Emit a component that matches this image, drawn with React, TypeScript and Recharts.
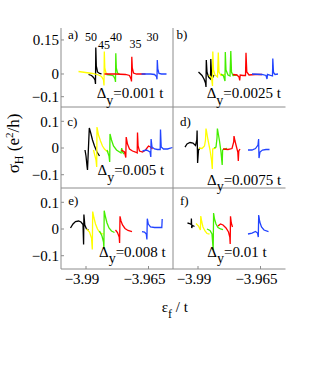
import React from 'react';
import { LineChart, Line, XAxis, YAxis } from 'recharts';

type Pt = [number, number];

const seriesColors = ['#000000', '#ffff00', '#44ee00', '#ff0000', '#2244ff'];
const sizeLabels = ['50', '45', '40', '35', '30'];
const deltaLabels = ['0.001', '0.0025', '0.005', '0.0075', '0.008', '0.01'];
const panelLetters = ['a)', 'b)', 'c)', 'd)', 'e)', 'f)'];
const xTicks = [-3.99, -3.965];
const xDomain: [number, number] = [-4.0, -3.955];
const yTicksTop = [-0.1, 0, 0.15];
const yTicksLower = [-0.1, 0, 0.1];
const yDomainTop: [number, number] = [-0.1454, 0.2026];
const yDomainLower: [number, number] = [-0.1498, 0.1536];

// panel a) Δy = 0.001 t
const a_black: Pt[] = [[-3.989,-0.0022],[-3.9878,-0.0066],[-3.987,-0.0154],[-3.9864,-0.0264],[-3.9862,-0.044],[-3.98608,0.1167],[-3.98588,0.0352],[-3.9854,0.0088],[-3.9846,0.0022],[-3.9838,0]];
const a_yellow: Pt[] = [[-3.993,0.011],[-3.9902,0.0066],[-3.9874,0.0022],[-3.985,-0.0044],[-3.9838,-0.011],[-3.983,-0.0264],[-3.9828,-0.0507],[-3.98268,0.0991],[-3.98248,0.0264],[-3.982,0.0044],[-3.9814,0]];
const a_green: Pt[] = [[-3.9818,-0.0022],[-3.9802,-0.0044],[-3.979,-0.0088],[-3.9784,-0.022],[-3.9782,-0.0352],[-3.97808,0.0912],[-3.97788,0.0264],[-3.9774,0.0044],[-3.9766,0]];
const a_red: Pt[] = [[-3.9826,0],[-3.9782,0],[-3.9742,-0.0022],[-3.9726,-0.0066],[-3.972,-0.022],[-3.9718,-0.033],[-3.97168,0.0762],[-3.97148,0.0264],[-3.971,0.0044],[-3.9698,0],[-3.9662,0]];
const a_blue: Pt[] = [[-3.9678,0],[-3.9642,0],[-3.9626,-0.0022],[-3.9618,-0.011],[-3.9616,-0.0233],[-3.96148,0.0617],[-3.96128,0.022],[-3.9608,0.0022],[-3.9598,0],[-3.9578,0]];

// panel b) Δy = 0.0025 t
const b_black: Pt[] = [[-3.9898,0.0088],[-3.9884,-0.0066],[-3.9876,-0.022],[-3.987,-0.0396],[-3.9868,-0.0573],[-3.98668,0.0617],[-3.9864,0.0088],[-3.9858,-0.0132],[-3.9852,-0.0198],[-3.985,-0.022],[-3.98488,0.0661],[-3.9846,0],[-3.9842,-0.0176],[-3.9836,-0.0044]];
const b_yellow: Pt[] = [[-3.9856,-0.0044],[-3.9846,-0.0176],[-3.9842,-0.0529],[-3.98408,0.0991],[-3.9838,0.0176],[-3.9832,-0.0044],[-3.9822,-0.0132],[-3.98188,0.0947],[-3.9816,0.0088],[-3.9808,-0.0066],[-3.9792,-0.0022]];
const b_green: Pt[] = [[-3.9808,0],[-3.9798,-0.0088],[-3.9792,-0.0308],[-3.97908,0.0969],[-3.9788,0.0176],[-3.978,-0.0044],[-3.9772,-0.0088],[-3.97688,0.1013],[-3.9766,0.0088],[-3.976,-0.0066],[-3.9744,-0.0044]];
const b_red: Pt[] = [[-3.976,-0.0022],[-3.9744,-0.0044],[-3.9736,-0.0132],[-3.97332,-0.0286],[-3.97312,-0.0044],[-3.972,-0.0066],[-3.971,-0.0066],[-3.9708,0.0938],[-3.97048,0.0088],[-3.9696,-0.0044],[-3.9672,-0.0022],[-3.9644,-0.0022]];
const b_blue: Pt[] = [[-3.9684,0],[-3.9644,-0.0022],[-3.9628,-0.0066],[-3.9624,-0.022],[-3.9622,-0.0022],[-3.961,-0.0066],[-3.9602,-0.0088],[-3.96008,0.0683],[-3.9598,0.0066],[-3.9592,-0.0022],[-3.958,0]];

// panel c) Δy = 0.005 t
const c_black: Pt[] = [[-3.9904,-0.0075],[-3.99,-0.03],[-3.9896,-0.0674],[-3.9894,-0.0824],[-3.98868,0.0749],[-3.988,0.0524],[-3.9874,0.03],[-3.9866,0.0075],[-3.9856,-0.015],[-3.9846,-0.03]];
const c_yellow: Pt[] = [[-3.987,-0.0075],[-3.986,-0.0449],[-3.98572,-0.0712],[-3.9856,0.0787],[-3.985,0.0487],[-3.9842,0.0262],[-3.9834,0.0075],[-3.9826,-0.0037],[-3.9818,-0.0112],[-3.981,-0.015]];
const c_green: Pt[] = [[-3.9816,-0.0075],[-3.9808,-0.03],[-3.98052,-0.0524],[-3.9804,0.0524],[-3.9798,0.03],[-3.979,0.0075],[-3.9778,-0.0075],[-3.9766,-0.015],[-3.976,-0.0187],[-3.97572,0],[-3.9754,-0.015],[-3.9748,-0.0225]];
const c_red: Pt[] = [[-3.9758,-0.0075],[-3.9746,-0.015],[-3.97408,-0.0356],[-3.97392,0.0412],[-3.9734,0.015],[-3.9726,-0.0037],[-3.9714,-0.0112],[-3.9702,-0.015],[-3.96952,-0.0187],[-3.9694,0.058],[-3.96916,0.0075],[-3.9686,-0.0112],[-3.9674,-0.015],[-3.9662,-0.0075],[-3.965,0.0075],[-3.9642,0.0037],[-3.9634,-0.0037]];
const c_blue: Pt[] = [[-3.9674,-0.0112],[-3.9658,-0.0075],[-3.9644,-0.015],[-3.96408,-0.0337],[-3.96396,0.0337],[-3.9636,0.0037],[-3.9626,-0.0037],[-3.9614,-0.0056],[-3.96032,-0.0056],[-3.9602,0.0693],[-3.95992,0.0037],[-3.959,-0.0037],[-3.9574,-0.0037],[-3.9554,0.0019]];

// panel d) Δy = 0.0075 t
const d_black: Pt[] = [[-3.9952,0.0037],[-3.9944,0.015],[-3.9932,0.0206],[-3.992,0.0187],[-3.991,0.0094],[-3.99048,0.03],[-3.99036,0.0655],[-3.99016,-0.0562],[-3.9898,-0.0075],[-3.9892,0]];
const d_yellow: Pt[] = [[-3.9896,0],[-3.9884,-0.0019],[-3.9874,0.0075],[-3.987,0.03],[-3.9868,0.073],[-3.9866,0.0637],[-3.986,0.03],[-3.9852,-0.0075],[-3.9846,-0.0449],[-3.98428,-0.0787],[-3.98412,-0.0037],[-3.9836,-0.0019],[-3.9828,0]];
const d_green: Pt[] = [[-3.9836,0],[-3.9828,0.0037],[-3.9824,0.0375],[-3.98224,0.073],[-3.982,0.0599],[-3.9814,0.0262],[-3.9808,-0.015],[-3.98032,-0.0637],[-3.98016,-0.0075],[-3.9796,-0.0037],[-3.9784,-0.0019]];
const d_red: Pt[] = [[-3.98,-0.0037],[-3.978,-0.0056],[-3.9764,-0.0019],[-3.97572,0.0225],[-3.9756,0.0449],[-3.9752,0.0262],[-3.9746,0.0037],[-3.97408,-0.015],[-3.97388,-0.0487],[-3.97368,-0.0112],[-3.9732,-0.0037]];
const d_blue: Pt[] = [[-3.97,-0.0075],[-3.9684,-0.0075],[-3.967,-0.0019],[-3.966,0.0112],[-3.96576,0.0337],[-3.9656,-0.0375],[-3.9652,-0.015],[-3.9642,-0.0075],[-3.9628,-0.0056],[-3.9614,-0.0056]];

// panel e) Δy = 0.008 t
const e_black: Pt[] = [[-3.9962,0.0037],[-3.9952,0.0187],[-3.9942,0.0281],[-3.993,0.03],[-3.992,0.0262],[-3.9912,0.0169],[-3.99096,-0.0581],[-3.99084,0.0543],[-3.99048,0.015],[-3.9898,0],[-3.989,-0.0037]];
const e_yellow: Pt[] = [[-3.9898,0],[-3.9886,-0.0112],[-3.9878,-0.0337],[-3.98748,-0.0768],[-3.98732,0.0655],[-3.9868,0.0412],[-3.9862,0.0187],[-3.9854,0],[-3.9846,-0.0112],[-3.9838,-0.0169],[-3.983,-0.0187]];
const e_green: Pt[] = [[-3.9846,-0.0075],[-3.9836,-0.0262],[-3.983,-0.0487],[-3.98284,-0.0749],[-3.98272,0.0685],[-3.9822,0.0449],[-3.9816,0.0225],[-3.9808,0.0037],[-3.9798,-0.0075],[-3.9786,-0.0131]];
const e_red: Pt[] = [[-3.9782,-0.0037],[-3.9774,-0.0131],[-3.97672,-0.03],[-3.97656,-0.0524],[-3.9764,0.0476],[-3.976,0.03],[-3.9754,0.015],[-3.9744,0.0019],[-3.9732,-0.0056],[-3.9716,-0.0094]];
const e_blue: Pt[] = [[-3.9676,-0.0094],[-3.9666,-0.0112],[-3.96588,-0.0187],[-3.96564,-0.0393],[-3.96548,0.0386],[-3.96508,0.0187],[-3.9642,0.0075],[-3.9626,0.0056],[-3.961,0.0056],[-3.95968,0.0056],[-3.95952,0.0375]];

// panel f) Δy = 0.01 t
const f_black: Pt[] = [[-3.9942,0.0225],[-3.9934,0.0206],[-3.99272,0.0169],[-3.99264,0.0393],[-3.99252,0.0037],[-3.9922,0.0131],[-3.9914,0.0094]];
const f_yellow: Pt[] = [[-3.9908,0.0206],[-3.9898,0.0112],[-3.98904,-0.0037],[-3.98888,0.0487],[-3.98848,0.0262],[-3.988,0.0075],[-3.9872,-0.0075],[-3.9864,-0.0169],[-3.9854,-0.0187]];
const f_green: Pt[] = [[-3.9864,0],[-3.9852,-0.0056],[-3.9844,-0.0187],[-3.98392,-0.0787],[-3.98376,0.0599],[-3.9834,0.0375],[-3.9828,0.0187],[-3.982,0.0056],[-3.981,0],[-3.98,-0.0019]];
const f_red: Pt[] = [[-3.982,0.0112],[-3.981,0.0187],[-3.98,0.015],[-3.9788,0.0037],[-3.9778,-0.0112],[-3.97728,-0.03],[-3.97712,-0.0562],[-3.977,0.0476],[-3.97668,0.0225],[-3.9762,0.0075]];
const f_blue: Pt[] = [[-3.97,-0.0187],[-3.9684,-0.015],[-3.967,-0.0094],[-3.9662,-0.015],[-3.96588,-0.03],[-3.96572,0.0524],[-3.96528,0.0262],[-3.9646,0.0075],[-3.9636,-0.0037],[-3.9618,-0.0094]];

const panelSeries: Pt[][][] = [
  [a_black, a_yellow, a_green, a_red, a_blue],
  [b_black, b_yellow, b_green, b_red, b_blue],
  [c_black, c_yellow, c_green, c_red, c_blue],
  [d_black, d_yellow, d_green, d_red, d_blue],
  [e_black, e_yellow, e_green, e_red, e_blue],
  [f_black, f_yellow, f_green, f_red, f_blue],
];

const SERIF = 'Liberation Serif, DejaVu Serif, serif';
const AXIS_GREY = '#8c8c8c';
const fmt = (v: number) => (v < 0 ? '\u2212' : '') + String(Math.abs(v));

const XTick = (p: any) => (
  <text x={p.x - 4} y={p.y} dy="0.71em" textAnchor="middle" fill="#000" fontSize={15} fontFamily={SERIF}>
    {fmt(p.payload.value)}
  </text>
);
const YTick = (p: any) => (
  <text x={p.x} y={p.y} dy="0.355em" textAnchor="end" fill="#000" fontSize={15} fontFamily={SERIF}>
    {fmt(p.payload.value)}
  </text>
);

const PLOT_W = 112.5;
const AXW = 50;
const XH = 30;

function Panel(props: {
  left: number; top: number; h: number; yDomain: [number, number]; yTicks: number[];
  yLabels: boolean; xLabels: boolean; series: Pt[][];
}) {
  const { left, top, h, yDomain, yTicks, yLabels, xLabels, series } = props;
  return (
    <div style={{ position: 'absolute', left: left - AXW, top }}>
      <LineChart width={AXW + PLOT_W} height={h + XH} margin={{ top: 0, right: 0, bottom: 0, left: 0 }}>
        <XAxis type="number" dataKey="x" domain={xDomain} ticks={xTicks} allowDataOverflow interval={0}
          height={XH} stroke={AXIS_GREY} tickSize={-3} tickMargin={7}
          tick={xLabels ? <XTick /> : false} />
        <YAxis type="number" dataKey="y" domain={yDomain} ticks={yTicks} allowDataOverflow interval={0}
          width={AXW} stroke={AXIS_GREY} tickSize={-3} tickMargin={5}
          tick={yLabels ? <YTick /> : false} />
        {series.map((s, i) => (
          <Line key={i} data={s.map(([x, y]) => ({ x, y }))} dataKey="y" type="linear"
            stroke={seriesColors[i]} strokeWidth={1.3} dot={false} activeDot={false}
            isAnimationActive={false} />
        ))}
      </LineChart>
    </div>
  );
}

const panelLayout = [
  { left: 60.5, top: 28, h: 79, yDomain: yDomainTop, yTicks: yTicksTop, yLabels: true, xLabels: false },
  { left: 173, top: 28, h: 79, yDomain: yDomainTop, yTicks: yTicksTop, yLabels: false, xLabels: false },
  { left: 60.5, top: 107, h: 81, yDomain: yDomainLower, yTicks: yTicksLower, yLabels: true, xLabels: false },
  { left: 173, top: 107, h: 81, yDomain: yDomainLower, yTicks: yTicksLower, yLabels: false, xLabels: false },
  { left: 60.5, top: 188, h: 81, yDomain: yDomainLower, yTicks: yTicksLower, yLabels: true, xLabels: true },
  { left: 173, top: 188, h: 81, yDomain: yDomainLower, yTicks: yTicksLower, yLabels: false, xLabels: true },
];

const letterPos = [[68, 38.5], [176.5, 38.5], [67.3, 126], [180, 126], [68.3, 204.5], [180, 204.5]];
const deltaPos = [[96.7, 98], [206.7, 98], [97.5, 175], [207, 184.5], [99, 256.5], [207.3, 256.5]];
const sizePos = [[91, 40.5], [104, 48.5], [116, 40.5], [135.5, 47.5], [152.5, 40.5]];

export default function App() {
  return (
    <div style={{ position: 'absolute', left: 0, top: 0, width: 336, height: 371, background: '#fff', overflow: 'hidden' }}>
      {panelLayout.map((p, i) => (
        <Panel key={i} {...p} series={panelSeries[i]} />
      ))}
      <svg width={336} height={371} style={{ position: 'absolute', left: 0, top: 0, pointerEvents: 'none' }}
        fontFamily={SERIF} fill="#000">
        {panelLetters.map((t, i) => (
          <text key={'l' + i} x={letterPos[i][0]} y={letterPos[i][1]} fontSize={13}>{t}</text>
        ))}
        {deltaLabels.map((t, i) => (
          <text key={'d' + i} x={deltaPos[i][0]} y={deltaPos[i][1]} fontSize={15}>
            Δ<tspan dy={6.5} fontSize={14}>y</tspan><tspan dy={-6.5}>{'=' + t + ' t'}</tspan>
          </text>
        ))}
        {sizeLabels.map((t, i) => (
          <text key={'s' + i} x={sizePos[i][0]} y={sizePos[i][1]} fontSize={12} textAnchor="middle">{t}</text>
        ))}
        <text transform="translate(18.5,143.5) rotate(-90)" textAnchor="middle" fontSize={17}>
          σ<tspan dy={4} fontSize={12}>H</tspan><tspan dy={-4}> (e</tspan><tspan dy={-6} fontSize={11}>2</tspan><tspan dy={6}>/h)</tspan>
        </text>
        <text x={161.7} y={311.7} fontSize={15}>
          ε<tspan dy={6} fontSize={12}>f</tspan><tspan dy={-6}> / t</tspan>
        </text>
      </svg>
    </div>
  );
}
